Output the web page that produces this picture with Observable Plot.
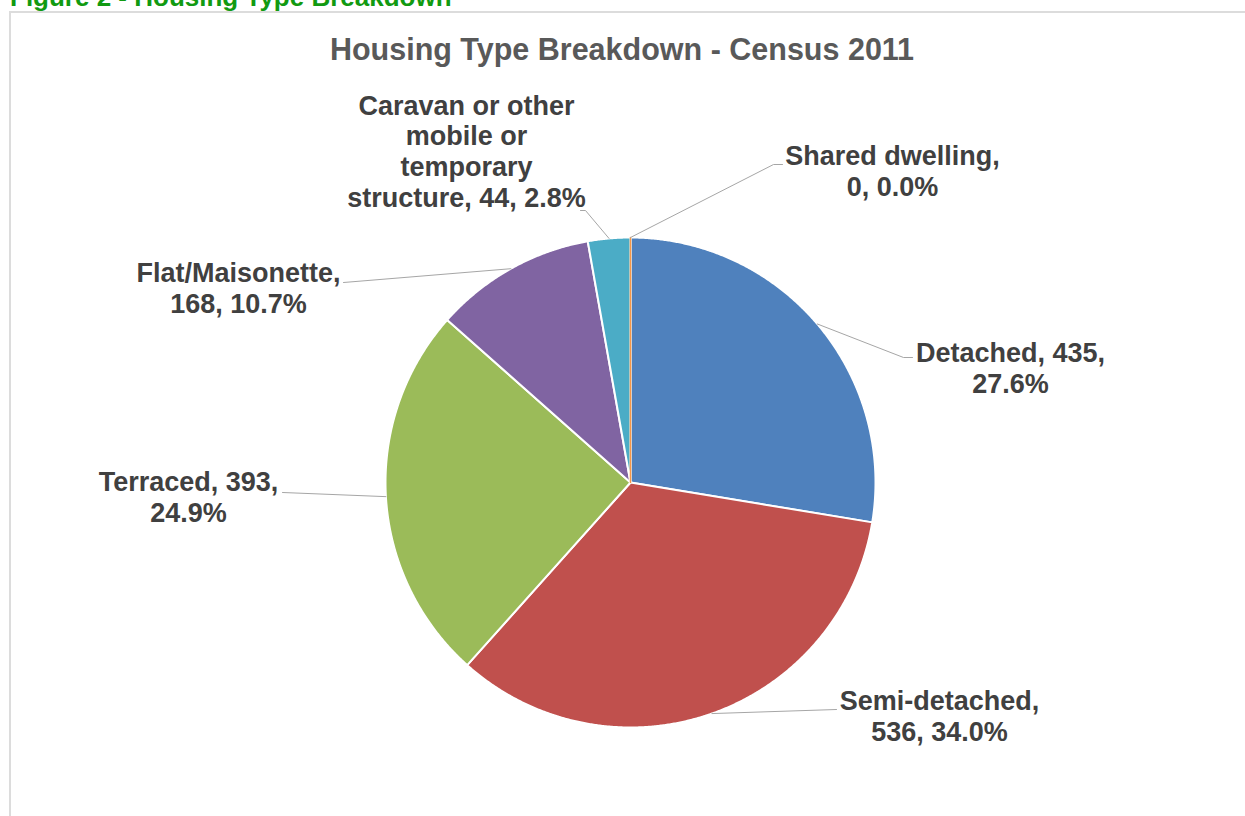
<!DOCTYPE html>
<html><head><meta charset="utf-8">
<script src="https://cdn.jsdelivr.net/npm/d3@7"></script>
<script src="https://cdn.jsdelivr.net/npm/@observablehq/plot@0.6"></script>
<style>
html,body{margin:0;padding:0;background:#fff;width:1245px;height:816px;overflow:hidden;}
#heading{position:absolute;left:10px;top:-16px;font:bold 26px/26px "Liberation Sans",Arial,sans-serif;color:#119a11;white-space:nowrap;}
#box{position:absolute;left:9px;top:11px;width:1300px;height:900px;border:2px solid #dcdcdc;}
#chart{position:absolute;left:0;top:0;}
</style></head><body>
<div id="heading">Figure 2 - Housing Type Breakdown</div>
<div id="box"></div>
<div id="chart"></div>
<script>
// ---- data ----
const title = "Housing Type Breakdown - Census 2011";
const categories = ["Detached","Semi-detached","Terraced","Flat/Maisonette","Caravan or other mobile or temporary structure","Shared dwelling"];
const counts = [435, 536, 393, 168, 44, 0];
const colors = ["#4F81BD","#C0504D","#9BBB59","#8064A2","#4BACC6","#F79646"];
// words per line when the data label wraps (last line takes the rest)
const wordsPerLine = [[2],[1],[2],[1],[3,2,1],[2]];
// label layout (chart px relative to pie centre, y up): last-line baseline
const labelAnchorX = [380, 309, -442, -392, -164, 262];
const labelAnchorY = [90, -258, -39, 170, 276, 287];
// leader-line bends/ends after leaving the slice edge
const leaderBends = [
  [[273,125],[282,125]],
  [[206,-227]],
  [[-348,-10]],
  [[-287,200]],
  [[-45,272],[-50,272]],
  [[143,318],[152,318]]
];

// ---- build ----
const R = 245;
const total = d3.sum(counts);
const rows = categories.map((c,i)=>({type:c, count:counts[i], i}));
const arcs = d3.pie().sort(null).value(d=>d.count).startAngle(0).endAngle(2*Math.PI)(rows);

const slicePts = [], zeroPts = [], leaderPts = [];
arcs.forEach(a=>{
  const t = a.data.type;
  if (a.endAngle - a.startAngle > 0) {
    slicePts.push({type:t, x:0, y:0});
    const n = Math.max(2, Math.ceil((a.endAngle - a.startAngle) / 0.005));
    for (let k=0;k<=n;k++){
      const ang = a.startAngle + (a.endAngle - a.startAngle)*k/n;
      slicePts.push({type:t, x:R*Math.sin(ang), y:R*Math.cos(ang)});
    }
    slicePts.push({type:t, x:0, y:0});
  } else {
    zeroPts.push({type:t, x:0, y:0});
    zeroPts.push({type:t, x:R*Math.sin(a.startAngle), y:R*Math.cos(a.startAngle)});
  }
  const mid = (a.startAngle + a.endAngle)/2;
  leaderPts.push({type:t, x:R*Math.sin(mid), y:R*Math.cos(mid)});
  leaderBends[a.data.i].forEach(p=>leaderPts.push({type:t, x:p[0], y:p[1]}));
});

const labels = rows.map((r,i)=>{
  const pct = (r.count/total*100).toFixed(1) + "%";
  const words = `${r.type}, ${r.count}, ${pct}`.split(" ");
  const lines = [];
  let p = 0;
  wordsPerLine[i].forEach(n=>{ lines.push(words.slice(p,p+n).join(" ")); p+=n; });
  lines.push(words.slice(p).join(" "));
  return {text: lines.join("\n"), x: labelAnchorX[i], y: labelAnchorY[i]};
});

const font = "'Liberation Sans', Arial, Helvetica, sans-serif";
const chart = Plot.plot({
  width: 1245, height: 816, margin: 0,
  x: {domain: [-630, 615], range: [0, 1245], axis: null},
  y: {domain: [-334, 482], range: [816, 0], axis: null},
  color: {domain: categories, range: colors},
  style: {background: "transparent", fontFamily: font, overflow: "visible"},
  marks: [
    Plot.line(slicePts, {x:"x", y:"y", z:"type", fill:"type", stroke:"white", strokeWidth:2, curve:"linear", strokeLinejoin:"round"}),
    Plot.line(zeroPts, {x:"x", y:"y", z:"type", stroke:"type", strokeWidth:1.5}),
    Plot.line(leaderPts, {x:"x", y:"y", z:"type", stroke:"#a6a6a6", strokeWidth:1}),
    Plot.text(labels, {x:"x", y:"y", text:"text", fontSize:27, fontWeight:"bold", fill:"#404040", lineAnchor:"bottom", lineHeight:30.6/27, textAnchor:"middle", fontFamily:font}),
    Plot.text([title], {x:()=>-8.5, y:()=>423, text:d=>d, fontSize:30.5, fontWeight:"bold", fill:"#595959", lineAnchor:"bottom", textAnchor:"middle", fontFamily:font})
  ]
});
document.getElementById("chart").appendChild(chart);
</script>
</body></html>
